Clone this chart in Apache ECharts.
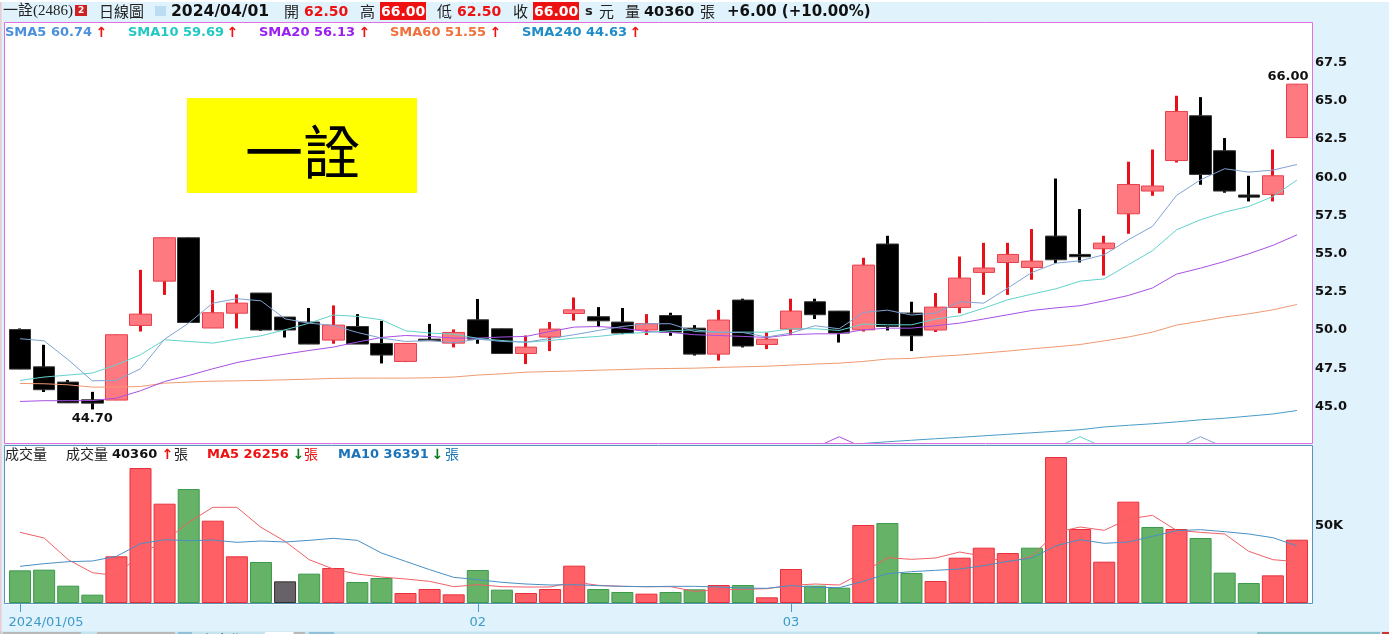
<!DOCTYPE html>
<html><head><meta charset="utf-8">
<style>html,body{margin:0;padding:0;background:#E0F2FC;overflow:hidden}#c{width:1389px;height:634px}</style>
<script src="https://cdn.jsdelivr.net/npm/echarts@6/dist/echarts.min.js"></script>
</head><body><div id="c"></div>
<script>
const dates=['2024/01/05','2024/01/08','2024/01/09','2024/01/10','2024/01/11','2024/01/12','2024/01/15','2024/01/16','2024/01/17','2024/01/18','2024/01/19','2024/01/22','2024/01/23','2024/01/24','2024/01/25','2024/01/26','2024/01/29','2024/01/30','2024/01/31','2024/02/01','2024/02/02','2024/02/05','2024/02/15','2024/02/16','2024/02/19','2024/02/20','2024/02/21','2024/02/22','2024/02/23','2024/02/26','2024/02/27','2024/02/29','2024/03/01','2024/03/04','2024/03/05','2024/03/06','2024/03/07','2024/03/08','2024/03/11','2024/03/12','2024/03/13','2024/03/14','2024/03/15','2024/03/18','2024/03/19','2024/03/20','2024/03/21','2024/03/22','2024/03/25','2024/03/26','2024/03/27','2024/03/28','2024/03/29','2024/04/01'];
const openP=[49.93,47.49,46.49,45.33,45.31,50.2,53.1,55.94,50.03,51.0,52.32,50.75,50.42,49.24,50.13,49.02,47.84,49.3,49.04,50.57,49.98,48.36,49.44,50.98,50.77,50.42,49.9,50.85,50.02,48.32,51.86,48.95,49.96,51.75,51.14,49.91,55.53,51.01,49.9,51.38,53.67,54.32,53.99,56.05,54.85,55.22,57.51,59.0,61.0,63.93,61.64,58.74,58.78,62.5];
const closeP=[47.34,45.99,45.13,45.11,49.59,50.94,55.94,50.39,51.03,51.66,49.9,49.9,48.98,50.22,48.98,48.26,49.02,49.2,49.74,49.3,48.36,48.78,49.96,51.22,50.5,49.7,50.31,49.76,48.32,50.55,48.85,49.3,51.14,50.9,49.7,54.15,50.13,49.52,51.4,53.3,53.96,54.85,54.41,54.5,54.7,55.59,59.43,59.33,64.21,60.09,59.0,58.6,60.0,66.0];
const lowP=[47.34,45.84,45.13,44.7,45.31,49.8,52.2,50.39,50.03,50.0,49.85,49.41,48.98,49.0,48.98,47.71,47.8,49.2,48.76,49.0,48.36,47.67,48.52,50.52,50.09,49.63,49.57,49.52,48.23,47.9,48.76,48.65,49.57,50.62,49.08,49.8,49.87,48.52,49.77,51.0,52.2,52.2,53.19,54.28,54.32,53.47,56.2,58.69,60.87,59.41,58.89,58.32,58.32,62.5];
const highP=[50.0,48.93,46.62,45.85,49.59,53.84,55.94,55.94,52.51,52.23,52.32,50.75,51.34,51.51,50.94,50.5,49.02,50.3,49.94,51.93,49.98,49.54,50.42,52.03,51.4,51.34,50.94,51.03,50.22,51.22,51.95,49.74,51.95,51.95,51.14,54.63,56.07,51.75,52.32,54.71,55.61,55.61,56.51,59.82,57.82,56.07,60.92,61.72,65.24,65.15,62.47,60.0,61.72,66.0];
const sma5=[49.33,49.19,47.95,46.57,46.6,47.36,49.3,50.35,51.66,51.95,51.81,50.63,50.35,50.2,49.74,49.37,49.15,49.21,49.06,49.3,49.15,49.1,49.35,49.59,49.87,50.13,50.31,50.31,49.8,49.74,49.74,49.44,49.7,50.18,49.98,51.05,51.2,50.88,51.0,51.75,51.66,52.65,53.67,54.28,54.43,54.83,55.81,56.68,58.71,59.74,60.46,60.24,60.37,60.74];
const sma10=[46.6,46.82,46.95,47.08,47.62,48.28,49.26,49.15,49.04,49.3,49.52,49.91,50.35,50.88,50.79,50.57,49.85,49.7,49.63,49.35,49.21,49.1,49.21,49.37,49.48,49.65,49.74,49.85,49.91,49.76,49.76,49.76,49.98,49.98,49.87,50.29,50.24,50.24,50.62,50.83,51.33,51.88,52.25,52.6,53.1,53.25,54.17,55.09,56.46,57.12,57.62,57.99,58.64,59.72];
const sma20=[45.22,45.27,45.27,45.28,45.44,45.92,46.53,46.92,47.36,47.77,48.06,48.32,48.56,48.78,49.11,49.41,49.54,49.48,49.37,49.37,49.44,49.48,49.8,50.09,50.13,50.02,49.8,49.74,49.59,49.54,49.48,49.41,49.59,49.65,49.65,49.91,50.02,50.02,50.18,50.35,50.62,50.9,51.18,51.35,51.49,51.81,52.16,52.65,53.56,53.95,54.39,54.89,55.44,56.13];
const sma60=[46.4,46.38,46.31,46.16,46.16,46.2,46.42,46.49,46.55,46.57,46.6,46.64,46.68,46.73,46.75,46.75,46.75,46.77,46.82,46.95,47.03,47.14,47.18,47.22,47.27,47.31,47.36,47.38,47.4,47.45,47.49,47.53,47.6,47.67,47.73,47.84,48.0,48.04,48.17,48.26,48.39,48.52,48.67,48.8,48.95,49.19,49.44,49.76,50.22,50.48,50.75,50.96,51.22,51.57];
const sma240=[null,null,null,null,null,null,null,null,null,null,null,null,null,null,null,null,null,null,null,null,null,null,null,null,null,null,null,null,null,null,null,null,null,null,null,42.47,42.58,42.68,42.78,42.87,42.97,43.07,43.17,43.27,43.37,43.55,43.66,43.76,43.88,44.02,44.12,44.26,44.4,44.63];
const spikeLow=42.2, spikePeak=42.91;
const volume=[20825,21250,11050,5312,29750,86060,63325,72675,52490,29750,26140,13810,18700,22310,13390,15940,6375,8925,5525,21040,8500,6375,8925,23800,8925,7010,5950,7010,8712,11475,11475,3612,21675,11050,9775,49725,51000,19125,14025,28900,35275,31875,35275,93075,47175,26350,64600,48450,47175,41440,19340,12750,17640,40360];
const volMA5=[45050,41440,27625,19340,17425,31450,39310,51425,60990,60990,48240,39310,27625,21675,18490,16575,15300,13810,10410,11690,10410,10200,10200,13390,11260,10625,10410,10410,7440,8500,8700,9140,11260,12110,11475,19550,28900,27840,28690,32510,29750,25925,29750,45050,48450,46325,53550,55890,46325,45050,43990,32940,27625,26350];
const volMA10=[23375,25075,26350,26775,29750,37825,40375,39740,40160,38675,39525,38890,39950,41225,39950,31875,26560,21250,16360,14875,13175,12110,11475,11690,11050,10625,10410,10625,10625,10200,9560,9350,11050,9990,9775,13810,18700,19975,20825,21675,23800,26560,28690,36550,40375,38040,38890,42500,46110,46750,45475,43990,41650,36391];
const volRedIdx=[4,5,6,8,9,13,16,17,18,21,22,23,26,29,31,32,35,38,39,40,41,43,44,45,46,48,52,53];
const volGrayIdx=[11];
const xTickLabels={'2024/01/05':'2024/01/05','2024/02/01':'02','2024/03/01':'03'};
const smaLegend=[['SMA5','60.74'],['SMA10','59.69'],['SMA20','56.13'],['SMA60','51.55'],['SMA240','44.63']];
const headerVals={open:'62.50',high:'66.00',low:'62.50',close:'66.00',vol:'40360',date:'2024/04/01',chg:'+6.00 (+10.00%)'};
const volLegend={vol:'40360',ma5:'26256',ma10:'36391'};

const C={sma5:'#4A90DC',sma10:'#22C9C4',sma20:'#9A1FF0',sma60:'#F0703A',sma240:'#1E8CC8',
 l5:'#7FA3D4',l10:'#62D2CC',l20:'#A850E4',l60:'#F09A70',l240:'#4A9CC8'};
const LAT='"DejaVu Sans",Verdana,sans-serif', CJK='"Noto Sans CJK TC",sans-serif';
const wick=dates.map((_,i)=>[openP[i],closeP[i],lowP[i],highP[i]]);
const body=dates.map((_,i)=>[openP[i],closeP[i],Math.min(openP[i],closeP[i]),Math.max(openP[i],closeP[i])]);
const volStyle=i=>volGrayIdx.includes(i)?{color:'#676268',borderColor:'#33302f'}:
  volRedIdx.includes(i)?{color:'#FF6066',borderColor:'#E8303C'}:{color:'#66B266',borderColor:'#3C9A4C'};
const volData=volume.map((v,i)=>({value:v,itemStyle:volStyle(i)}));
const spike=(i)=>dates.map((_,k)=>k===i?spikePeak:(Math.abs(k-i)===1?spikeLow:null));

const gfx=[];
const T=(x,y,text,fill,size,bold,fam)=>gfx.push({type:'text',silent:true,z:50,style:{x,y:fam?y:y+1,text,fill,font:(bold?'bold ':'')+size+'px '+(fam||LAT),textVerticalAlign:'middle'}});
const R=(x,y,w,h,fill,stroke,z)=>gfx.push({type:'rect',silent:true,z:z==null?1:z,shape:{x,y,width:w,height:h},style:{fill:fill||'none',stroke:stroke||'none',lineWidth:1}});
// page furniture
R(0,0,1389,2,'#ffffff');
R(0.5,2,0.8,632,'#F2A6AE',null,2);
R(0,631.5,1389,3,'#C6E3F0');
R(3,632,78,2,'#B9B9B9',null,3);R(97,632,78,2,'#B9B9B9',null,3);R(178,632,14,2,'#8FC0D8',null,3);
R(265,632,28,2,'#ffffff',null,3);R(294,632,11,2,'#B9B9B9',null,3);R(309,632,25,2,'#8FC0D8',null,3);
R(1257,632,123,2,'#8FC4CC',null,3);R(1382,632,7,2,'#D03030',null,3);
T(203,640,'保留期間','#333',14,false,CJK);
// frames
R(4.5,22.5,1308,421,'#ffffff',null,0);
R(4.5,445.5,1308,159,'#ffffff',null,0);
R(4.5,22.5,1308,421,'none','#E070E0',40);
R(4.5,445.5,1308,158,'none','#5A94B4',40);
// yellow name box
R(187,98,230,95,'#FFFF00',null,2);
T(245,152,'一詮','#000',58,false,CJK);
// header
T(3,11,'一詮(2486)','#222',15,false,'"Liberation Serif","Noto Sans CJK TC",serif');
R(75,5,12,11,'#D02020',null,5);T(78,9.5,'2','#fff',9,true);
T(99,11,'日線圖','#222',15,false,CJK);
R(155,6,11,10,'#BCDCF4',null,5);
T(171,11,headerVals.date,'#111',15.6,true);
T(284,11,'開','#222',15,false,CJK);T(304,11,headerVals.open,'#EE1111',14,true);
T(360,11,'高','#222',15,false,CJK);R(380,2,46,18,'#EE1111',null,5);T(381,11,headerVals.high,'#fff',14,true);
T(437,11,'低','#222',15,false,CJK);T(457,11,headerVals.low,'#EE1111',14,true);
T(513,11,'收','#222',15,false,CJK);R(533,2,46,18,'#EE1111',null,5);T(534,11,headerVals.close,'#fff',14,true);
T(585,11,'s','#222',13,true);T(599,11,'元','#222',15,false,CJK);
T(625,11,'量','#222',15,false,CJK);T(644,11,headerVals.vol,'#111',14.5,true);T(700,11,'張','#222',15,false,CJK);
T(727,11,headerVals.chg,'#111',15,true);
// SMA legend
const sx=[5,128,259,390,522], ax=[95.5,226.5,358.5,489.5,629.5], sc=[C.sma5,C.sma10,C.sma20,C.sma60,C.sma240];
smaLegend.forEach((s,i)=>{T(sx[i],32,s[0]+' '+s[1],sc[i],13,true);T(ax[i],32,'↑','#EE1111',14,true);});
// volume legend
T(5,454,'成交量','#222',14,false,CJK);T(66,454,'成交量','#222',14,false,CJK);
T(112,454,volLegend.vol,'#111',13,true);T(161.5,454,'↑','#EE1111',14,true);T(174,454,'張','#222',14,false,CJK);
T(207,454,'MA5 '+volLegend.ma5,'#EE1111',13,true);T(292.5,454,'↓','#0A7A1E',14,true);T(304,454,'張','#EE1111',14,false,CJK);
T(338,454,'MA10 '+volLegend.ma10,'#1A73B8',13,true);T(431.5,454,'↓','#0A7A1E',14,true);T(445,454,'張','#1A73B8',14,false,CJK);

const line=(name,data,color,xi)=>({name,type:'line',data,xAxisIndex:xi,yAxisIndex:xi,symbol:'none',silent:true,z:5,
  lineStyle:{color,width:1},connectNulls:false,clip:true});
const yRich={v:{padding:[3,0,0,0],fontFamily:LAT,fontSize:13,fontWeight:'bold',color:'#111'}};
const chart=echarts.init(document.getElementById('c'),null,{renderer:'canvas'});
chart.setOption({
 animation:false,backgroundColor:'#E0F2FC',
 grid:[{left:8,width:1301,top:22,height:421},{left:8,width:1301,top:445,height:158}],
 xAxis:[
  {type:'category',gridIndex:0,data:dates,axisLine:{show:false},axisTick:{show:false},axisLabel:{show:false},splitLine:{show:false}},
  {type:'category',gridIndex:1,data:dates,axisLine:{show:false},
   axisTick:{show:true,alignWithLabel:true,length:9,interval:(i,v)=>v in xTickLabels,lineStyle:{color:'#4A9CC8'}},
   axisLabel:{show:true,interval:(i,v)=>v in xTickLabels,margin:13,fontFamily:LAT,fontSize:13,color:'#3D9AC8',hideOverlap:false,
     formatter:v=>v===dates[0]?'{first|'+xTickLabels[v]+'}':xTickLabels[v],
     rich:{first:{padding:[0,0,0,52],fontFamily:LAT,fontSize:13,color:'#3D9AC8'}}},
   splitLine:{show:false}}
 ],
 yAxis:[
  {type:'value',gridIndex:0,position:'right',min:42.5,max:70.07,interval:2.5,axisLine:{show:false},axisTick:{show:false},splitLine:{show:false},
   axisLabel:{margin:6,rich:yRich,showMinLabel:false,showMaxLabel:false,
     formatter:v=>(v>=45&&v<=67.5)?'{v|'+v.toFixed(1)+'}':''}},
  {type:'value',gridIndex:1,position:'right',min:0,max:100740,interval:50000,axisLine:{show:false},axisTick:{show:false},splitLine:{show:false},
   axisLabel:{margin:6,rich:yRich,formatter:v=>v===50000?'{v|50K}':''}}
 ],
 series:[
  {name:'wick',type:'candlestick',data:wick,xAxisIndex:0,yAxisIndex:0,barWidth:1,silent:true,z:2,
   itemStyle:{color:'#E8101A',color0:'#000',borderColor:'#E8101A',borderColor0:'#000',borderWidth:3}},
  {name:'K',type:'candlestick',data:body,xAxisIndex:0,yAxisIndex:0,barWidth:22,silent:true,z:3,
   itemStyle:{color:'#FF7A80',color0:'#000',borderColor:'#E8404C',borderColor0:'#333',borderWidth:1},
   markPoint:{silent:true,symbol:'circle',symbolSize:1,itemStyle:{color:'rgba(0,0,0,0)'},
    data:[
     {coord:[dates[53],highP[53]],value:highP[53].toFixed(2),label:{position:'top',distance:1,offset:[-9,0]}},
     {coord:[dates[3],lowP[3]],value:lowP[3].toFixed(2),label:{position:'bottom',distance:1,offset:[0,1]}}
    ],
    label:{show:true,formatter:p=>p.value,fontFamily:LAT,fontSize:13,fontWeight:'bold',color:'#111'}}},
  line('SMA60',sma60,C.l60,0),
  line('SMA240',sma240,C.l240,0),
  line('SMA20',sma20,C.l20,0),
  line('SMA10',sma10,C.l10,0),
  line('SMA5',sma5,C.l5,0),
  line('SMA20a',spike(34),C.l20,0),
  line('SMA10a',spike(44),C.l10,0),
  line('SMA5a',spike(49),C.l5,0),
  {name:'成交量',type:'bar',data:volData,xAxisIndex:1,yAxisIndex:1,barWidth:22,silent:true,z:2,itemStyle:{borderWidth:1}},
  line('MA5',volMA5,'#F06068',1),
  line('MA10',volMA10,'#4A90C4',1)
 ],
 graphic:{elements:gfx}
});
</script></body></html>
